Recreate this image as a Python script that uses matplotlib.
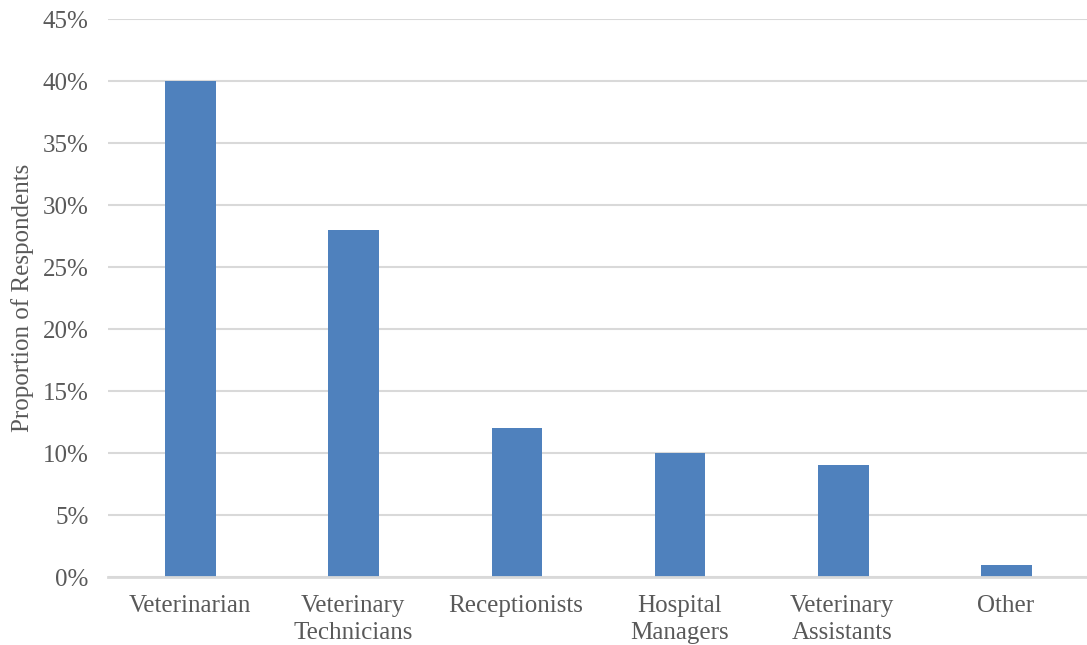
import numpy as np
import matplotlib.pyplot as plt
from matplotlib.ticker import PercentFormatter

# Proportion of respondents by role
roles = ['Veterinarian', 'Veterinary\nTechnicians', 'Receptionists',
         'Hospital\nManagers', 'Veterinary\nAssistants', 'Other']
proportions = [40, 28, 12, 10, 9, 1]

plt.rcParams['font.family'] = ['Liberation Serif', 'DejaVu Serif']
text_color = '#595959'

fig = plt.figure(figsize=(10.87, 6.45), dpi=100)
ax = fig.add_axes([0.0994, 0.1054, 0.9006, 0.8651])

x = np.arange(len(roles))
ax.bar(x + 0.006, proportions, width=0.31, color='#4F81BD', zorder=3)

ax.set_xlim(-0.5, len(roles) - 0.5)
ax.set_ylim(0, 45)
ax.set_yticks(np.arange(0, 46, 5))
ax.yaxis.set_major_formatter(PercentFormatter(decimals=0))
ax.set_xticks(x)
ax.set_xticklabels(roles, linespacing=1.3)

ax.grid(axis='y', color='#D9D9D9', linewidth=1.5, zorder=0)
for side in ['top', 'right', 'left']:
    ax.spines[side].set_visible(False)
ax.spines['bottom'].set_color('#D9D9D9')
ax.spines['bottom'].set_linewidth(2)
ax.spines['bottom'].set_zorder(4)

ax.tick_params(axis='both', length=0, labelsize=18, labelcolor=text_color)
ax.tick_params(axis='y', pad=14)
ax.tick_params(axis='x', pad=13)
ax.set_ylabel('Proportion of Respondents', fontsize=18, color=text_color, labelpad=6)

fig.savefig('out.png', dpi=100)
